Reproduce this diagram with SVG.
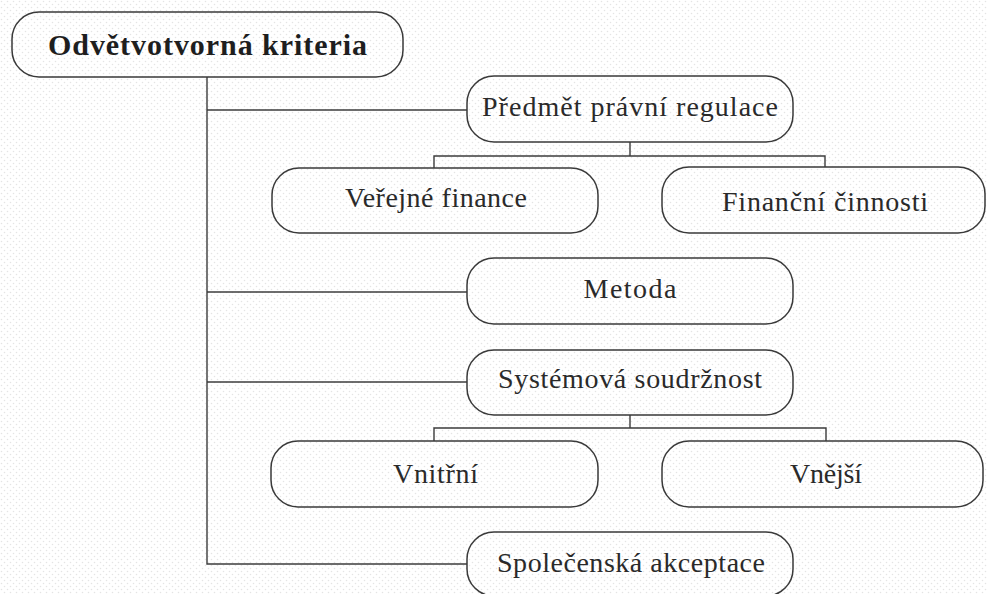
<svg xmlns="http://www.w3.org/2000/svg" width="987" height="594" viewBox="0 0 987 594">
  <defs>
    <pattern id="grain" width="6" height="6" patternUnits="userSpaceOnUse">
      <rect width="6" height="6" fill="#ffffff"/>
      <circle cx="1.5" cy="1.5" r="0.75" fill="#e4e4e4"/>
      <circle cx="4.5" cy="4.5" r="0.75" fill="#e4e4e4"/>
    </pattern>
    <style>
      .box { fill: none; stroke: #3a3a3a; stroke-width: 1.5; }
      .lbl { font-family: "Liberation Serif", "Times New Roman", serif; font-size: 28px; fill: #2a2a2a; text-anchor: middle; }
      .root { font-weight: bold; font-size: 30px; fill: #1e1e1e; }
      .wire { fill: none; stroke: #3c3c3c; stroke-width: 1.4; }
    </style>
  </defs>

  <rect width="987" height="594" fill="url(#grain)"/>

  <!-- connectors -->
  <g id="connectors" class="wire">
    <path d="M207 77 V564 H467"/>
    <path d="M207 110 H467"/>
    <path d="M207 292 H467"/>
    <path d="M207 382 H467"/>
    <path d="M630 142 V156 M434 168 V156 H825 V167"/>
    <path d="M630 415 V428 M434 441 V428 H826 V441"/>
  </g>

  <!-- nodes -->
  <g id="root">
    <rect class="box" x="12" y="12" width="391" height="65" rx="27"/>
    <text class="lbl root" x="207.5" y="55" textLength="319" lengthAdjust="spacing">Odvětvotvorná kriteria</text>
  </g>

  <g id="predmet">
    <rect class="box" x="467" y="76" width="326" height="66" rx="27"/>
    <text class="lbl" x="630" y="115.5" textLength="296" lengthAdjust="spacing">Předmět právní regulace</text>
  </g>

  <g id="verejne-finance">
    <rect class="box" x="272" y="168" width="326" height="65" rx="27"/>
    <text class="lbl" x="436" y="207" textLength="182" lengthAdjust="spacing">Veřejné finance</text>
  </g>

  <g id="financni-cinnosti">
    <rect class="box" x="662" y="167" width="323" height="66" rx="27"/>
    <text class="lbl" x="825" y="210.5" textLength="206" lengthAdjust="spacing">Finanční činnosti</text>
  </g>

  <g id="metoda">
    <rect class="box" x="467" y="258" width="326" height="66" rx="27"/>
    <text class="lbl" x="630" y="298" textLength="93" lengthAdjust="spacing">Metoda</text>
  </g>

  <g id="systemova-soudrznost">
    <rect class="box" x="467" y="350" width="326" height="65" rx="27"/>
    <text class="lbl" x="630" y="388" textLength="264" lengthAdjust="spacing">Systémová soudržnost</text>
  </g>

  <g id="vnitrni">
    <rect class="box" x="271" y="441" width="327" height="66" rx="27"/>
    <text class="lbl" x="435.5" y="483" textLength="85" lengthAdjust="spacing">Vnitřní</text>
  </g>

  <g id="vnejsi">
    <rect class="box" x="662" y="441" width="321" height="66" rx="27"/>
    <text class="lbl" x="826" y="483" textLength="72" lengthAdjust="spacing">Vnější</text>
  </g>

  <g id="spolecenska-akceptace">
    <rect class="box" x="467" y="532" width="326" height="64" rx="27"/>
    <text class="lbl" x="631" y="572" textLength="268" lengthAdjust="spacing">Společenská akceptace</text>
  </g>
</svg>
